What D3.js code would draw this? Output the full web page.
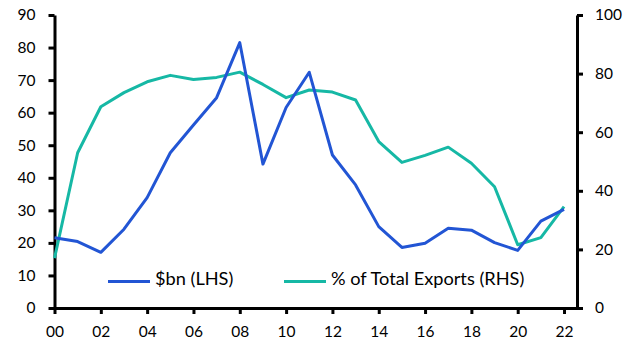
<!DOCTYPE html>
<html><head><meta charset="utf-8">
<script src="https://cdn.jsdelivr.net/npm/d3@7"></script>
<style>body{margin:0;background:#fff}svg{display:block}text{font-family:Lato,"Open Sans",sans-serif;fill:#000}</style>
</head><body><svg id="c" width="631" height="356"></svg>
<script>
const years = d3.range(2000, 2023);
const usdBn = [21.6,20.4,17.1,24.2,33.9,47.7,56.2,64.6,81.5,44.2,61.6,72.4,47.0,37.8,25.0,18.6,19.9,24.5,23.9,20.1,17.7,26.7,30.3];
const pctExports = [17.0,53.0,68.7,73.5,77.2,79.4,78.0,78.7,80.5,76.3,71.8,74.4,73.7,71.0,56.8,49.7,52.1,54.9,49.4,41.4,21.6,24.0,34.6];
const leftTicks = [0,10,20,30,40,50,60,70,80,90];
const rightTicks = [0,20,40,60,80,100];
const xTicks = d3.range(2000, 2023, 2);
const seriesNames = ["$bn (LHS)", "% of Total Exports (RHS)"];
const colors = ["#2255d4", "#16b8a5"];

const svg = d3.select("#c");
const L = 54.5, R = 577, T = 15, B = 308;
const x = d3.scaleLinear().domain([2000, 2022.56]).range([L, R]);
const yL = d3.scaleLinear().domain([0, 90]).range([B, T]);
const yR = d3.scaleLinear().domain([0, 100]).range([B, T]);

const fmtYear = d => String(d % 100).padStart(2, "0");

const gx = svg.append("g").attr("transform", `translate(0,${B})`)
  .call(d3.axisBottom(x).tickValues(xTicks).tickFormat(fmtYear).tickSize(6).tickPadding(12).tickSizeOuter(0));
const gl = svg.append("g").attr("transform", `translate(${L},0)`)
  .call(d3.axisLeft(yL).tickValues(leftTicks).tickSize(6).tickPadding(13).tickSizeOuter(0));
const gr = svg.append("g").attr("transform", `translate(${R},0)`)
  .call(d3.axisRight(yR).tickValues(rightTicks).tickSize(6).tickPadding(12).tickSizeOuter(0));
[gx, gl, gr].forEach(g => {
  g.select(".domain").attr("stroke", "#000").attr("stroke-width", 3);
  g.selectAll(".tick line").attr("stroke", "#000").attr("stroke-width", 3);
  g.selectAll(".tick text").attr("font-size", 15.5).attr("font-family", "Lato, 'Open Sans', sans-serif").attr("fill", "#000");
});

const lineL = d3.line().x((d, i) => x(years[i])).y(d => yL(d));
const lineR = d3.line().x((d, i) => x(years[i])).y(d => yR(d));
svg.append("path").datum(pctExports).attr("d", lineR).attr("fill", "none")
  .attr("stroke", colors[1]).attr("stroke-width", 3).attr("stroke-linejoin", "round");
svg.append("path").datum(usdBn).attr("d", lineL).attr("fill", "none")
  .attr("stroke", colors[0]).attr("stroke-width", 3).attr("stroke-linejoin", "round");

const legendX = [108, 284];
const lg = svg.append("g");
seriesNames.forEach((name, i) => {
  lg.append("line").attr("x1", legendX[i]).attr("x2", legendX[i] + 42)
    .attr("y1", 281.5).attr("y2", 281.5).attr("stroke", colors[i]).attr("stroke-width", 3);
  lg.append("text").attr("x", legendX[i] + 47).attr("y", 285).attr("font-size", 18.2).text(name);
});
</script></body></html>
